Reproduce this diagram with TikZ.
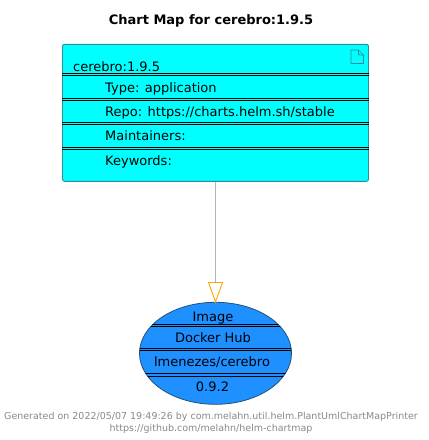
\documentclass[tikz,border=0pt]{standalone}
\usepackage{fontspec}
\setmainfont{DejaVu Sans}
\usepackage{xcolor}
\usetikzlibrary{calc,arrows.meta}
\definecolor{chartfill}{HTML}{00FFFF}
\definecolor{chartedge}{HTML}{2A8C9C}
\definecolor{imagefill}{HTML}{1E90FF}
\definecolor{imageedge}{HTML}{20507A}
\definecolor{linkgray}{HTML}{B4B4B4}
\definecolor{linkhead}{HTML}{FFA500}
\definecolor{foot}{HTML}{888888}
\tikzset{
  chartbox/.style={draw=chartedge, fill=chartfill, line width=0.9pt, rounded corners=2pt, minimum width=306pt, minimum height=137pt, inner sep=0pt},
  imageoval/.style={ellipse, draw=imageedge, fill=imagefill, line width=0.8pt, minimum width=152pt, minimum height=102pt, inner sep=0pt},
  rowline/.style={draw=black, line width=0.9pt},
  lab/.style={text=black, font=\fontsize{13}{15}\selectfont, inner sep=0pt, anchor=base west},
  labm/.style={text=black, font=\fontsize{13}{15}\selectfont, inner sep=0pt, anchor=base},
  title/.style={text=black, font=\fontsize{13}{15}\selectfont\bfseries, inner sep=0pt, anchor=base},
  footer/.style={text=foot, font=\fontsize{9.5}{11}\selectfont, inner sep=0pt, anchor=base},
}
\usetikzlibrary{shapes.geometric}
\begin{document}
\begin{tikzpicture}[x=1pt,y=-1pt]
  \useasboundingbox (0,0) rectangle (429,440);
  \node[title] (heading) at (211,24) {Chart Map for cerebro:1.9.5};
  % chart box
  \node[chartbox] (chart) at (215.5,112.8) {};
  \foreach \Y in {73.5,75.9,98.9,100.7,122.9,124.9,147.1,149.1}
    \draw[rowline] ($(chart.west |- 0,\Y)$) -- ($(chart.east |- 0,\Y)$);
  \draw[chartedge,line width=0.6pt,line join=round] (351,50) -- (358.5,50) -- (363.5,55) -- (363.5,63.5) -- (351,63.5) -- cycle (358.5,50) -- (358.5,55) -- (363.5,55);
  \node[lab] (chartname) at (73,71) {cerebro:1.9.5};
  \node[lab] (type) at (105,92) {Type: application};
  \node[lab] (repo) at (105,116) {Repo: https://charts.helm.sh/stable};
  \node[lab] (maint) at (105,140) {Maintainers:};
  \node[lab] (keys) at (105,165) {Keywords:};
  % image
  \node[imageoval] (image) at (215.5,353.3) {};
  \begin{scope}
    \clip (image.center) ellipse (76 and 51);
    \foreach \Y in {324.5,326.7,348.2,350.4,373.8,376}
      \draw[rowline] (130,\Y) -- (300,\Y);
  \end{scope}
  \node[labm] (imgkind) at (213,321) {Image};
  \node[labm] (imgreg) at (213,342) {Docker Hub};
  \node[labm] (imgrepo) at (212,366) {lmenezes/cerebro};
  \node[labm] (imgtag) at (212.5,391) {0.9.2};
  % link
  \draw[linkgray,line width=0.9pt] (chart.south -| image.north) -- ($(image.north)+(0,-20)$);
  \draw[linkhead,line width=0.9pt,line join=miter] (208.5,282.5) -- (222.5,282.5) -- (image.north) -- cycle;
  \node[footer] (gen) at (211,419) {Generated on 2022/05/07 19:49:26 by com.melahn.util.helm.PlantUmlChartMapPrinter};
  \node[footer] (url) at (211,431) {https://github.com/melahn/helm-chartmap};
\end{tikzpicture}
\end{document}
